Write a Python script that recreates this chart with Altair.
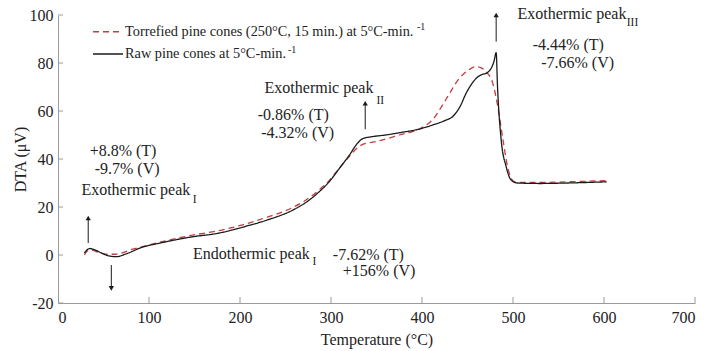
import altair as alt
import pandas as pd

# ---- data ----
raw_T = [29, 32, 35, 40, 48, 56, 64, 75, 93, 110, 148, 175, 203, 230, 258, 272, 286, 298, 310, 320, 329,
         335, 345, 360, 376, 395, 412, 425, 434, 442, 448.5, 455, 460, 466, 471, 476, 479, 481.5,
         483, 487, 492.5, 498, 505, 530, 560, 603]
raw_V = [0.8, 2.2, 2.7, 2.2, 0.8, -0.4, -0.7, 0.5, 3.3, 4.8, 7.6, 9.0, 11.6, 14.6, 18.7, 21.8, 26.0, 30.5,
         36.5, 41.5, 46.5, 48.5, 49.3, 50.0, 51.0, 52.3, 54.2, 56.0, 57.8, 62.0, 67.4, 71.5, 73.8,
         75.2, 75.8, 77.8, 80.5, 84.3, 70.0, 48.0, 36.8, 31.2, 30.0, 29.8, 30.0, 30.5]

tor_T = [29, 31, 34, 38, 45, 55, 65, 80, 100, 148, 175, 203, 230, 258, 272, 286, 298, 310, 320, 330, 338,
         346, 360, 375, 397, 412, 426.6, 441, 450, 459.5, 465, 470.5, 477.8, 483.3, 489, 494, 501.6,
         510, 540, 570, 603]
tor_V = [0.0, 1.2, 2.0, 1.9, 1.0, 0.3, 0.4, 2.2, 4.2, 8.3, 10.0, 12.6, 15.8, 19.8, 22.8, 26.8, 31.0, 36.5,
         41.0, 45.0, 46.5, 47.0, 48.3, 50.0, 52.5, 56.5, 65.0, 73.6, 76.8, 78.5, 78.0, 76.4, 71.5,
         61.8, 48.0, 36.8, 30.5, 30.2, 30.3, 30.6, 31.0]

series_names = ["Torrefied pine cones (250°C, 15 min.) at 5°C-min.", "Raw pine cones at 5°C-min."]
series_sup = ["-1", "-1"]

x_ticks = [0, 100, 200, 300, 400, 500, 600, 700]
y_ticks = [-20, 0, 20, 40, 60, 80, 100]

ann_text = ["+8.8% (T)", "-9.7% (V)", "Exothermic peak", "Endothermic peak", "-7.62% (T)",
            "+156% (V)", "Exothermic peak", "-0.86% (T)", "-4.32% (V)", "Exothermic peak",
            "-4.44% (T)", "-7.66% (V)"]
ann_T = [34.8, 40.3, 25.7, 148.3, 302, 313, 227, 219.5, 223.4, 505, 521.7, 531]
ann_V = [43.5, 35.8, 27.1, 0.4, 0.0, -6.7, 69.4, 58.3, 50.7, 100.4, 87.5, 79.9]

sub_text = ["I", "I", "II", "III"]
sub_T = [148, 279.7, 350, 625]
sub_V = [22.9, -2.8, 64.2, 96.5]

arrow_T = [33.2, 58.6, 337.6, 481.5]
arrow_from = [5.0, -4.2, 52.4, 88.9]
arrow_to = [15.4, -13.9, 63.2, 100.0]

FONT = "Liberation Serif"
RED = "#c43c3c"
BLACK = "#1a1a1a"
AXIS_GRAY = "#9a9a9a"

# ---- tables ----
lines_df = pd.concat([
    pd.DataFrame({"T": tor_T, "V": tor_V, "series": series_names[0]}),
    pd.DataFrame({"T": raw_T, "V": raw_V, "series": series_names[1]}),
])
ann_df = pd.DataFrame({"T": ann_T, "V": ann_V, "text": ann_text})
sub_df = pd.DataFrame({"T": sub_T, "V": sub_V, "text": sub_text})
arrow_df = pd.DataFrame({"T": arrow_T, "V1": arrow_from, "V2": arrow_to,
                         "dir": ["up" if b > a else "down" for a, b in zip(arrow_from, arrow_to)]})
xt_df = pd.DataFrame({"T": [t for t in x_ticks if t > 0]})
yt_df = pd.DataFrame({"V": y_ticks})

xscale = alt.Scale(domain=[0, 700], nice=False)
yscale = alt.Scale(domain=[-20, 100], nice=False)

x_enc = alt.X("T:Q", scale=xscale, axis=alt.Axis(values=x_ticks, title="Temperature (°C)",
                                                 labelExpr="'' + datum.value"))
y_enc = alt.Y("V:Q", scale=yscale, axis=alt.Axis(values=y_ticks, title="DTA (μV)",
                                                 labelExpr="'' + datum.value"))

lines = alt.Chart(lines_df).mark_line(strokeWidth=1.3, interpolate="monotone").encode(
    x=x_enc, y=y_enc,
    color=alt.Color("series:N", scale=alt.Scale(domain=series_names, range=[RED, BLACK]), legend=None),
    strokeDash=alt.StrokeDash("series:N", scale=alt.Scale(domain=series_names, range=[[6, 4], [1, 0]]),
                              legend=None),
)

xticks = alt.Chart(xt_df).mark_rule(color=AXIS_GRAY, strokeWidth=1).encode(
    x=alt.X("T:Q", scale=xscale), y=alt.value(288), y2=alt.value(282))
yticks = alt.Chart(yt_df).mark_rule(color=AXIS_GRAY, strokeWidth=1).encode(
    y=alt.Y("V:Q", scale=yscale), x=alt.value(0), x2=alt.value(5))

ann = alt.Chart(ann_df).mark_text(align="left", baseline="middle", font=FONT, fontSize=16,
                                  color="#222222").encode(
    x=alt.X("T:Q", scale=xscale), y=alt.Y("V:Q", scale=yscale), text="text:N")
subs = alt.Chart(sub_df).mark_text(align="left", baseline="middle", font=FONT, fontSize=11.5,
                                   color="#222222").encode(
    x=alt.X("T:Q", scale=xscale), y=alt.Y("V:Q", scale=yscale), text="text:N")

shafts = alt.Chart(arrow_df).mark_rule(color=BLACK, strokeWidth=1).encode(
    x=alt.X("T:Q", scale=xscale), y=alt.Y("V1:Q", scale=yscale), y2="V2:Q")
heads = alt.Chart(arrow_df).mark_point(filled=True, color=BLACK, size=28, opacity=1).encode(
    x=alt.X("T:Q", scale=xscale), y=alt.Y("V2:Q", scale=yscale),
    shape=alt.Shape("dir:N", scale=alt.Scale(domain=["up", "down"], range=["triangle-up", "triangle-down"]),
                    legend=None))

# manual legend
leg_rows = [16.7, 39.0]
leg_sup_x = [359, 230]
legend_layers = []
for i, name in enumerate(series_names):
    one = pd.DataFrame({"label": [name], "sup": [series_sup[i]]})
    base = alt.Chart(one)
    legend_layers.append(base.mark_rule(color=[RED, BLACK][i], strokeWidth=1.4,
                                        strokeDash=[[6, 4], [1, 0]][i]).encode(
        x=alt.value(35), x2=alt.value(65), y=alt.value(leg_rows[i])))
    legend_layers.append(base.mark_text(align="left", baseline="middle", font=FONT, fontSize=14.3,
                                        color="#222222").encode(
        x=alt.value(67), y=alt.value(leg_rows[i]), text="label:N"))
    legend_layers.append(base.mark_text(align="left", baseline="middle", font=FONT, fontSize=10,
                                        color="#222222").encode(
        x=alt.value(leg_sup_x[i]), y=alt.value(leg_rows[i] - 4.5), text="sup:N"))

chart = alt.layer(lines, xticks, yticks, shafts, heads, ann, subs, *legend_layers).properties(
    width=637, height=288,
    padding={"left": 58, "top": 15, "right": 17, "bottom": 48},
    autosize=alt.AutoSizeParams(type="none"),
).configure_view(stroke=None).configure_axis(
    grid=False, ticks=False, domainColor=AXIS_GRAY, domainWidth=1,
    labelFont=FONT, labelFontSize=16, labelColor="#222222",
    titleFont=FONT, titleFontSize=16, titleFontWeight="normal", titleColor="#222222",
).configure_axisX(labelPadding=6, titlePadding=6).configure_axisY(labelPadding=5, titlePadding=1)

chart.save("out.html", embed_options={"renderer": "svg", "actions": False})
